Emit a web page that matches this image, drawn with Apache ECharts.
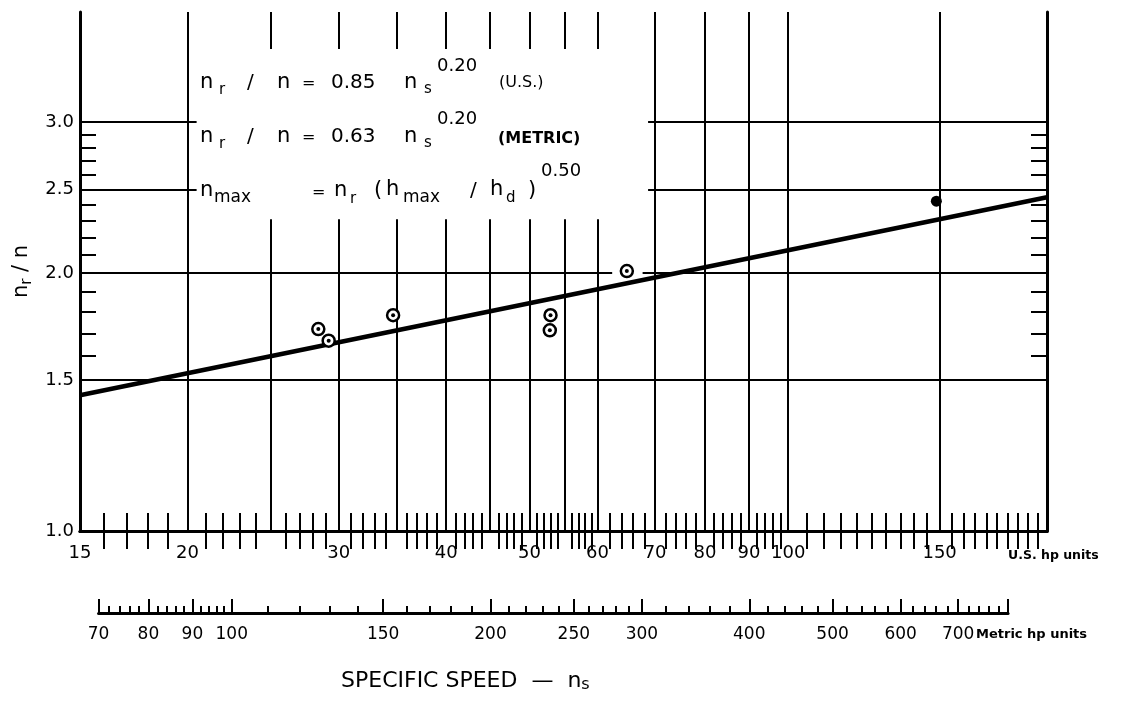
<!DOCTYPE html>
<html><head><meta charset="utf-8">
<script src="https://cdn.jsdelivr.net/npm/echarts@6/dist/echarts.min.js"></script>
<style>html,body{margin:0;padding:0;background:#fff}#c{width:1124px;height:715px}</style>
</head><body><div id="c"></div>
<script>
// ---------------- data ----------------
const usRange = [15, 200];
const ratioRange = [1.0, 4.03];
const metricRange = [70, 800];
const metricPerUS = 4.44;

const usLabelValues = [15, 20, 30, 40, 50, 60, 70, 80, 90, 100, 150];
const usGridValues = [20, 25, 30, 35, 40, 45, 50, 55, 60, 70, 80, 90, 100, 150];
const usMinorTicks = [16,17,18,19,21,22,23,24,26,27,28,29,31,32,33,34,36,37,38,39,41,42,43,44,46,47,48,49,51,52,53,54,56,57,58,59,62,64,66,68,72,74,76,78,82,84,86,88,92,94,96,98,105,110,115,120,125,130,135,140,145,155,160,165,170,175,180,185,190,195];

const ratioLabelValues = [1.0, 1.5, 2.0, 2.5, 3.0];
const ratioGridValues = [1.5, 2.0, 2.5, 3.0];
const ratioMinorTicks = [1.6, 1.7, 1.8, 1.9, 2.1, 2.2, 2.3, 2.4, 2.6, 2.7, 2.8, 2.9];

const metricLabelValues = [70, 80, 90, 100, 150, 200, 250, 300, 400, 500, 600, 700];
const metricMajorTicks = [70, 80, 90, 100, 150, 200, 250, 300, 400, 500, 600, 700, 800];
const metricMinorTicks = [72,74,76,78,82,84,86,88,92,94,96,98,110,120,130,140,160,170,180,190,210,220,230,240,260,270,280,290,320,340,360,380,420,440,460,480,520,540,560,580,620,640,660,680,720,740,760,780];

const testNs = [28.4, 29.2, 34.7, 52.9, 52.8, 64.9];
const testRatio = [1.72, 1.667, 1.785, 1.785, 1.714, 2.01];
const singleNs = [148.7];
const singleRatio = [2.425];
const fitNs = [15, 200];
const fitRatio = [1.44, 2.45];

// white panel behind the equations and the gap in the 2.0 rule (data coordinates)
const panelNs = [20.5, 68.7];
const panelRatio = [2.31, 3.65];
const gapNs = [62.4, 67.7];
const gapRatio = [1.985, 2.015];

// ---------------- layout ----------------
const W = 1124, H = 715;
const FONT = '"DejaVu Sans", sans-serif';
const INK = '#000';
const L = Math.log10;
const plot = { left: 80, top: 12, right: 77, bottom: 184 };
const plotWidth = W - plot.left - plot.right;
const decade = plotWidth / (L(usRange[1]) - L(usRange[0]));
const metricLeftPx = plot.left + decade * (L(metricRange[0] / metricPerUS) - L(usRange[0]));
const metricRightPx = plot.left + decade * (L(metricRange[1] / metricPerUS) - L(usRange[0]));
const metricAxisY = 613;

const logs = a => a.map(v => L(v));
const pairs = (xs, ys) => xs.map((x, i) => [L(x), L(ys[i])]);
const intFmt = v => String(Math.round(Math.pow(10, v)));
const decFmt = v => Math.pow(10, v).toFixed(1);

const hidden = { show: false };

const xAxes = [
  { // bottom: labels + minor ticks
    type: 'value', gridIndex: 0, position: 'bottom', min: L(usRange[0]), max: L(usRange[1]),
    axisLine: { show: true, lineStyle: { color: INK, width: 3 } },
    axisTick: { show: true, inside: true, length: 18, lineStyle: { color: INK, width: 2 }, customValues: logs(usMinorTicks) },
    axisLabel: { show: true, customValues: logs(usLabelValues), formatter: intFmt, color: INK, fontSize: 18, fontFamily: FONT, margin: 13 },
    splitLine: hidden
  },
  { // top frame with minor ticks
    type: 'value', gridIndex: 0, position: 'top', min: L(usRange[0]), max: L(usRange[1]),
    axisLine: { show: true, lineStyle: { color: INK, width: 3 } },
    axisTick: { show: true, inside: true, length: 18, lineStyle: { color: INK, width: 2 }, customValues: logs(usMinorTicks) },
    axisLabel: hidden, splitLine: hidden
  },
  { // vertical rules
    type: 'value', gridIndex: 0, position: 'bottom', min: L(usRange[0]), max: L(usRange[1]),
    axisLine: hidden, axisLabel: hidden,
    axisTick: { show: false, customValues: logs(usGridValues) },
    splitLine: { show: true, lineStyle: { color: INK, width: 2 } }
  },
  { // metric scale: line, major ticks, labels
    type: 'value', gridIndex: 1, position: 'bottom', min: L(metricRange[0]), max: L(metricRange[1]),
    axisLine: { show: true, lineStyle: { color: INK, width: 3 } },
    axisTick: { show: true, inside: true, length: 14, lineStyle: { color: INK, width: 2 }, customValues: logs(metricMajorTicks) },
    axisLabel: { show: true, customValues: logs(metricLabelValues), formatter: intFmt, color: INK, fontSize: 17, fontFamily: FONT, margin: 13 },
    splitLine: hidden
  },
  { // metric scale: minor ticks (pointing up)
    type: 'value', gridIndex: 1, position: 'top', min: L(metricRange[0]), max: L(metricRange[1]),
    axisLine: hidden, axisLabel: hidden, splitLine: hidden,
    axisTick: { show: true, inside: false, length: 6, lineStyle: { color: INK, width: 2 }, customValues: logs(metricMinorTicks) }
  }
];

const yAxes = [
  {
    type: 'value', gridIndex: 0, position: 'left', min: L(ratioRange[0]), max: L(ratioRange[1]),
    axisLine: { show: true, lineStyle: { color: INK, width: 3 } },
    axisTick: { show: true, inside: true, length: 16, lineStyle: { color: INK, width: 2 }, customValues: logs(ratioMinorTicks) },
    axisLabel: { show: true, customValues: logs(ratioLabelValues), formatter: decFmt, color: INK, fontSize: 18, fontFamily: FONT, margin: 6 },
    splitLine: hidden,
    name: '{a|n}{b|r}{a| / n}', nameLocation: 'middle', nameRotate: 90, nameGap: 42,
    nameTextStyle: {
      color: INK, fontFamily: FONT,
      rich: { a: { fontSize: 21, fontFamily: FONT, color: INK, lineHeight: 30 },
              b: { fontSize: 15, fontFamily: FONT, color: INK, lineHeight: 30, padding: [10, 0, 0, 0] } }
    }
  },
  {
    type: 'value', gridIndex: 0, position: 'right', min: L(ratioRange[0]), max: L(ratioRange[1]),
    axisLine: { show: true, lineStyle: { color: INK, width: 3 } },
    axisTick: { show: true, inside: true, length: 16, lineStyle: { color: INK, width: 2 }, customValues: logs(ratioMinorTicks) },
    axisLabel: hidden, splitLine: hidden
  },
  {
    type: 'value', gridIndex: 0, position: 'left', min: L(ratioRange[0]), max: L(ratioRange[1]),
    axisLine: hidden, axisLabel: hidden,
    axisTick: { show: false, customValues: logs(ratioGridValues) },
    splitLine: { show: true, lineStyle: { color: INK, width: 2 } }
  },
  {
    type: 'value', gridIndex: 1, min: 0, max: 1, show: false
  }
];

function txt(text, x, y, size, bold) {
  return {
    type: 'text', x: x, y: y, z: 100, silent: true,
    style: { text: text, fontSize: size, fontFamily: FONT, fontWeight: bold ? 'bold' : 'normal', fill: INK,
             align: 'left', textAlign: 'left', verticalAlign: 'middle', textVerticalAlign: 'middle' }
  };
}

// equations block (annotation text)
const eq = [
  ['n', 200, 83, 21], ['r', 219, 90, 15], ['/', 247, 83, 20], ['n', 277, 83, 21], ['=', 302, 84, 16],
  ['0.85', 331, 83, 20], ['n', 404, 83, 21], ['s', 424, 89, 15], ['0.20', 437, 66, 18], ['(U.S.)', 499, 83, 16],
  ['n', 200, 137, 21], ['r', 219, 144, 15], ['/', 247, 137, 20], ['n', 277, 137, 21], ['=', 302, 138, 16],
  ['0.63', 331, 137, 20], ['n', 404, 137, 21], ['s', 424, 143, 15], ['0.20', 437, 119, 18],
  ['n', 200, 191, 21], ['max', 214, 198, 17], ['=', 312, 193, 16], ['n', 334, 191, 21], ['r', 350, 199, 15],
  ['(', 374, 191, 21], ['h', 386, 190, 21], ['max', 403, 198, 17], ['/', 470, 191, 20], ['h', 490, 190, 21],
  ['d', 506, 198, 15], [')', 528, 191, 21], ['0.50', 541, 171, 18]
];
const graphics = eq.map(e => txt(e[0], e[1], e[2], e[3], false));
graphics.push(txt('(METRIC)', 498, 139, 16, true));
graphics.push(txt('U.S. hp units', 1008, 556, 12.5, true));
graphics.push(txt('Metric hp units', 976, 635, 13, true));
graphics.push({
  type: 'text', x: 341, y: 681, z: 100, silent: true,
  style: {
    text: '{a|SPECIFIC SPEED  —  n}{b|s}', fill: INK, fontFamily: FONT,
    align: 'left', textAlign: 'left', verticalAlign: 'middle', textVerticalAlign: 'middle',
    rich: { a: { fontSize: 22, fontFamily: FONT, fill: INK, color: INK, lineHeight: 30 },
            b: { fontSize: 16, fontFamily: FONT, fill: INK, color: INK, lineHeight: 30, padding: [8, 0, 0, 0] } }
  }
});

const option = {
  backgroundColor: '#fff',
  animation: false,
  grid: [
    { left: plot.left, top: plot.top, right: plot.right, bottom: plot.bottom, containLabel: false, outerBoundsMode: 'none' },
    { left: metricLeftPx, right: W - metricRightPx, top: metricAxisY - 1, height: 1, containLabel: false, outerBoundsMode: 'none' }
  ],
  xAxis: xAxes,
  yAxis: yAxes,
  graphic: graphics,
  series: [
    {
      type: 'line', xAxisIndex: 0, yAxisIndex: 0, data: [], z: 1, silent: true,
      markArea: {
        silent: true, itemStyle: { color: '#fff', borderWidth: 0 }, label: { show: false },
        data: [
          [{ xAxis: L(panelNs[0]), yAxis: L(panelRatio[0]) }, { xAxis: L(panelNs[1]), yAxis: L(panelRatio[1]) }],
          [{ xAxis: L(gapNs[0]), yAxis: L(gapRatio[0]) }, { xAxis: L(gapNs[1]), yAxis: L(gapRatio[1]) }]
        ]
      }
    },
    {
      type: 'line', xAxisIndex: 0, yAxisIndex: 0, z: 3, silent: true,
      data: pairs(fitNs, fitRatio), symbol: 'none',
      lineStyle: { color: INK, width: 4.5 }
    },
    {
      type: 'scatter', xAxisIndex: 0, yAxisIndex: 0, z: 4, silent: true,
      data: pairs(testNs, testRatio), symbol: 'circle', symbolSize: 12,
      itemStyle: { color: '#fff', borderColor: INK, borderWidth: 2.5, opacity: 1 }
    },
    {
      type: 'scatter', xAxisIndex: 0, yAxisIndex: 0, z: 5, silent: true,
      data: pairs(testNs, testRatio), symbol: 'circle', symbolSize: 4,
      itemStyle: { color: INK, opacity: 1 }
    },
    {
      type: 'scatter', xAxisIndex: 0, yAxisIndex: 0, z: 4, silent: true,
      data: pairs(singleNs, singleRatio), symbol: 'circle', symbolSize: 11,
      itemStyle: { color: INK, opacity: 1 }
    }
  ]
};

const chart = echarts.init(document.getElementById('c'), null, { renderer: 'canvas' });
chart.setOption(option);
</script>
</body></html>
